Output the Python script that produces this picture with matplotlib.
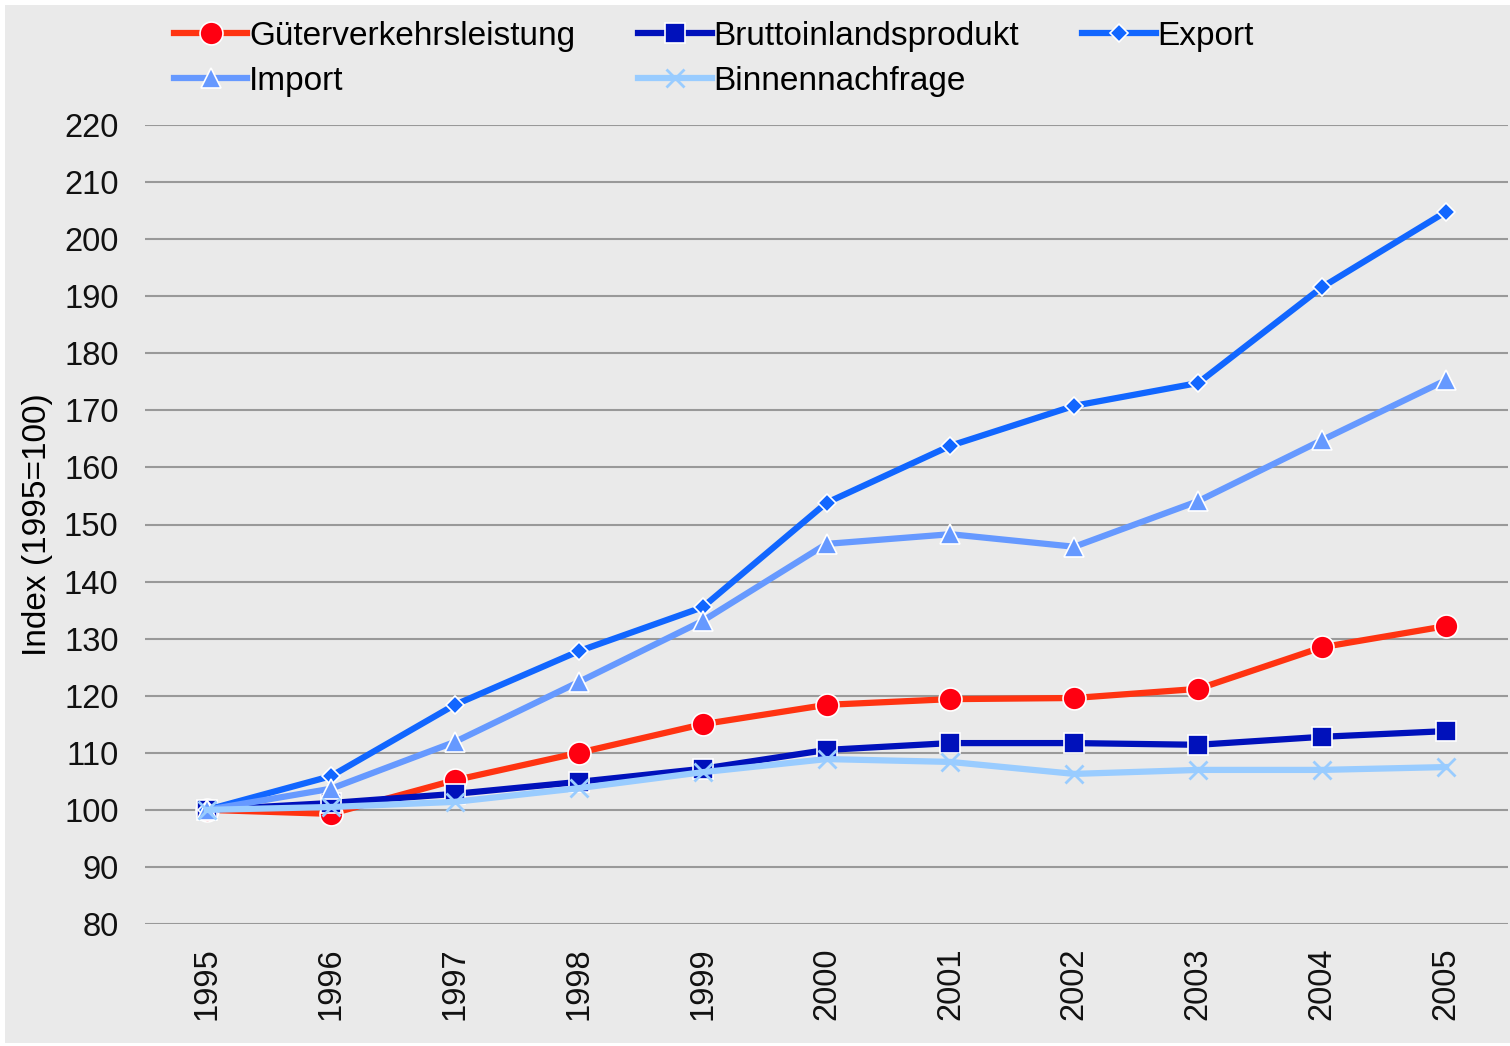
import matplotlib.pyplot as plt
from matplotlib.patches import Rectangle

plt.rcParams['font.family'] = ['Liberation Sans', 'DejaVu Sans']

years = [1995, 1996, 1997, 1998, 1999, 2000, 2001, 2002, 2003, 2004, 2005]
gueter = [100, 99.3, 105.2, 110.0, 115.0, 118.4, 119.4, 119.6, 121.2, 128.5, 132.2]
bip = [100, 101.2, 102.8, 104.9, 107.2, 110.5, 111.7, 111.7, 111.4, 112.8, 113.8]
export = [100, 105.9, 118.4, 127.8, 135.5, 153.8, 163.8, 170.8, 174.8, 191.6, 204.8]
importe = [100, 103.7, 111.9, 122.4, 133.1, 146.6, 148.3, 146.1, 154.1, 164.8, 175.3]
binnen = [100, 100.5, 101.4, 103.8, 106.6, 108.9, 108.4, 106.3, 107.0, 107.0, 107.5]

labels = ['Güterverkehrsleistung', 'Bruttoinlandsprodukt', 'Export', 'Import', 'Binnennachfrage']
series = [gueter, bip, export, importe, binnen]
line_colors = ['#FF3311', '#0011BB', '#1166FF', '#6699FF', '#99CCFF']
marker_colors = ['#FF0011', '#0011BB', '#1166FF', '#6699FF', '#99CCFF']
markers = ['o', 's', 'D', '^', 'x']
msizes = [16.5, 15, 9, 14, 13]

bg = '#EAEAEA'
fig = plt.figure(figsize=(15.1, 10.46), dpi=100, facecolor='white')
fig.patches.append(Rectangle((5 / 1510, 3 / 1046), 1 - 5 / 1510, 1 - 8 / 1046,
                             transform=fig.transFigure, facecolor=bg,
                             edgecolor='none', zorder=-10))
ax = fig.add_axes([145 / 1510, 1 - 924 / 1046, 1363 / 1510, 799 / 1046])
ax.set_facecolor(bg)

handles = []
for i in range(len(series)):
    if markers[i] == 'x':
        h, = ax.plot(years, series[i], color=line_colors[i], linewidth=4.5,
                     marker='x', markersize=msizes[i], markeredgewidth=2,
                     markeredgecolor=marker_colors[i], label=labels[i])
    else:
        h, = ax.plot(years, series[i], color=line_colors[i], linewidth=4.5,
                     marker=markers[i], markersize=msizes[i],
                     markerfacecolor=marker_colors[i], markeredgecolor='white',
                     markeredgewidth=1.2, label=labels[i])
    handles.append(h)

ax.set_xlim(1994.5, 2005.5)
ax.set_ylim(80, 220)
ax.set_yticks(range(80, 221, 10))
ax.set_xticks(years)
ax.set_xticklabels([str(y) for y in years], rotation=90)
ax.grid(axis='y', color='#999999', linewidth=1.5)
ax.set_axisbelow(True)
for s in ax.spines.values():
    s.set_visible(False)
ax.tick_params(axis='both', length=0, labelsize=23.5, colors='#111111')
ax.tick_params(axis='y', pad=19)
ax.tick_params(axis='x', pad=17)
ax.set_ylabel('Index (1995=100)', fontsize=24, labelpad=8)

order = [0, 3, 1, 4, 2]
fig.legend([handles[i] for i in order], [labels[i] for i in order],
           loc='upper left', bbox_to_anchor=(144 / 1510, 1 + 9 / 1046), ncol=3,
           frameon=False, fontsize=24, handlelength=2.2, handletextpad=0.05,
           columnspacing=1.9, labelspacing=0.42)

fig.savefig('out.png', dpi=100, facecolor=fig.get_facecolor())
